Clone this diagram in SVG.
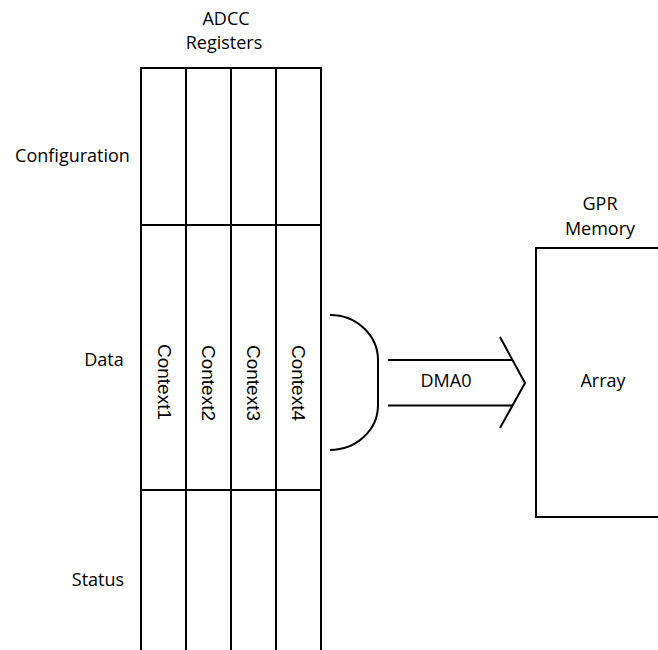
<svg xmlns="http://www.w3.org/2000/svg" width="658" height="650" viewBox="0 0 658 650">
  <style>
    .ln { stroke: #000; stroke-width: 2; fill: none; }
    .lbl { font-family: "Open Sans", "Liberation Sans", sans-serif; font-size: 18px; fill: #000; text-anchor: middle; }
    .ctx { font-family: "Liberation Sans", Arial, sans-serif; font-size: 19px; fill: #000; text-anchor: middle; }
  </style>
  <rect width="658" height="650" fill="#fff"/>

  <!-- ADCC register block -->
  <g id="adcc-registers">
    <text class="lbl" x="226" y="25">ADCC</text>
    <text class="lbl" x="224" y="49">Registers</text>
    <path class="ln" d="M141,68 V650 M186,68 V650 M231,68 V650 M276,68 V650 M321,68 V650"/>
    <path class="ln" d="M140,68 H322 M140,225 H322 M140,490 H322"/>
  </g>

  <g id="row-configuration">
    <text class="lbl" x="72.5" y="162">Configuration</text>
  </g>
  <g id="row-data">
    <text class="lbl" x="104" y="366">Data</text>
  </g>
  <g id="row-status">
    <text class="lbl" x="98" y="586">Status</text>
  </g>

  <g id="context1"><text class="ctx" transform="translate(158,382) rotate(90)">Context1</text></g>
  <g id="context2"><text class="ctx" transform="translate(202,383) rotate(90)">Context2</text></g>
  <g id="context3"><text class="ctx" transform="translate(247,383) rotate(90)">Context3</text></g>
  <g id="context4"><text class="ctx" transform="translate(292,383) rotate(90)">Context4</text></g>

  <!-- GPR memory -->
  <g id="gpr-memory">
    <text class="lbl" x="600" y="210">GPR</text>
    <text class="lbl" x="600" y="235">Memory</text>
    <path class="ln" d="M659,248 H536 V517 H659"/>
    <text class="lbl" x="603" y="387">Array</text>
  </g>

  <!-- DMA transfer -->
  <g id="connectors">
    <path class="ln" d="M330,315 A48,45 0 0 1 378,360 V405 A48,45 0 0 1 330,450"/>
    <path class="ln" d="M388,360 H512 M388,405.5 H513"/>
    <path class="ln" d="M500,337 L525,383 L500,428"/>
    <text class="lbl" x="446" y="387">DMA0</text>
  </g>
</svg>
